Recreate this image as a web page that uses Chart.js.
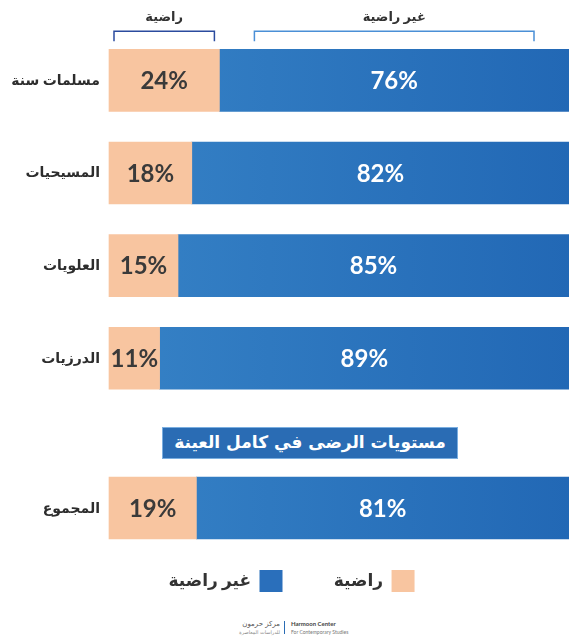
<!DOCTYPE html>
<html lang="ar">
<head>
<meta charset="utf-8">
<script src="https://cdn.jsdelivr.net/npm/chart.js@4.4.1/dist/chart.umd.min.js"></script>
<style>
  html, body { margin: 0; padding: 0; background: #fff; }
  body { width: 569px; height: 639px; position: relative; overflow: hidden; font-family: Lato, "DejaVu Sans", sans-serif; }
  #topWrap { position: absolute; left: 0; top: 0; }
  #totalWrap { position: absolute; left: 0; top: 440px; }
  #sectionTitle {
    position: absolute; left: 162px; top: 427px; width: 296px; height: 32px;
    background: #2a6cb4; border: 1px solid #7aaee0; box-sizing: border-box;
    color: #fff; font: bold 17px "DejaVu Sans", sans-serif; text-align: center;
    line-height: 29px; direction: rtl;
  }
  #footer { position: absolute; top: 620px; left: 0; width: 569px; height: 16px; }
  #footer .ar { position: absolute; right: 289px; top: 0; direction: rtl; text-align: right; font: 7px "DejaVu Sans"; color: #555; line-height: 8px; }
  #footer .ar span { font-size: 5px; color: #888; }
  #footer .sep { position: absolute; left: 284px; top: 1px; width: 1px; height: 13px; background: #2a6cb4; }
  #footer .en { position: absolute; left: 291px; top: 0; font: bold 6px Lato, sans-serif; color: #444; line-height: 8px; }
  #footer .en span { font-weight: normal; font-size: 5px; color: #777; }
</style>
</head>
<body>
<div id="topWrap"><canvas id="groupsChart" width="569" height="422"></canvas></div>
<div id="sectionTitle">مستويات الرضى في كامل العينة</div>
<div id="totalWrap"><canvas id="totalChart" width="569" height="162"></canvas></div>
<div id="footer">
  <div class="ar">مركز حرمون<br><span>للدراسات المعاصرة</span></div>
  <div class="sep"></div>
  <div class="en">Harmoon Center<br><span>For Contemporary Studies</span></div>
</div>
<script>
// --- dados ---
const seriesNames = ["راضية", "غير راضية"];
const groups = ["مسلمات سنة", "المسيحيات", "العلويات", "الدرزيات"];
const groupsSatisfied = [24, 18, 15, 11];
const groupsUnsatisfied = [76, 82, 85, 89];
const totalLabel = ["المجموع"];
const totalSatisfied = [19];
const totalUnsatisfied = [81];

const ORANGE = "#f8c5a0";
const FONT = 'Lato, "DejaVu Sans", sans-serif';

function blueFill(context) {
    const chart = context.chart;
    const area = chart.chartArea;
    if (!area) return "#2c72bc";
    const g = chart.ctx.createLinearGradient(area.left, 0, area.right, 0);
    g.addColorStop(0, "#3682c6");
    g.addColorStop(1, "#2268b5");
    return g;
}

// percentages inside the bars
const valueLabels = {
    id: "valueLabels",
    afterDatasetsDraw(chart) {
        const ctx = chart.ctx;
        ctx.save();
        ctx.font = "bold 24px " + FONT;
        ctx.textAlign = "center";
        ctx.textBaseline = "middle";
        chart.data.datasets.forEach((ds, i) => {
            chart.getDatasetMeta(i).data.forEach((bar, j) => {
                ctx.fillStyle = i === 0 ? "#3a3a3a" : "#ffffff";
                ctx.fillText(ds.data[j] + "%", (bar.x + bar.base) / 2, bar.y + 1);
            });
        });
        ctx.restore();
    }
};

// brackets over the first bar
const brackets = {
    id: "brackets",
    afterDraw(chart) {
        const ctx = chart.ctx;
        const a = chart.getDatasetMeta(0).data[0];
        const b = chart.getDatasetMeta(1).data[0];
        const barTop = a.y - a.height / 2;
        const spans = [
            { l: a.base + 5, r: a.x - 5, color: "#2b4b9e" },
            { l: b.base + 35, r: b.x - 35, color: "#4a8fd6" }
        ];
        ctx.save();
        ctx.lineWidth = 1.5;
        ctx.font = "bold 13px " + FONT;
        ctx.textAlign = "center";
        ctx.textBaseline = "middle";
        spans.forEach((s, i) => {
            ctx.strokeStyle = s.color;
            ctx.beginPath();
            ctx.moveTo(s.l, barTop - 8);
            ctx.lineTo(s.l, barTop - 18);
            ctx.lineTo(s.r, barTop - 18);
            ctx.lineTo(s.r, barTop - 8);
            ctx.stroke();
            ctx.fillStyle = "#333";
            ctx.fillText(seriesNames[i], (s.l + s.r) / 2, barTop - 33);
        });
        ctx.restore();
    }
};

function makeOptions(showLegend, padding, axisWidth) {
    return {
        indexAxis: "y",
        responsive: false,
        animation: false,
        layout: { padding: padding },
        plugins: {
            legend: {
                display: showLegend,
                position: "bottom",
                rtl: true,
                textDirection: "rtl",
                labels: {
                    boxWidth: 23,
                    boxHeight: 22,
                    padding: 30,
                    color: "#333",
                    font: { size: 17, weight: "bold", family: FONT },
                    generateLabels(chart) {
                        const items = Chart.defaults.plugins.legend.labels.generateLabels(chart);
                        // a bit more room between the two entries
                        items[0].text += "\u2003\u2002";
                        items[1].fillStyle = "#2a6fbb";
                        return items;
                    }
                }
            },
            tooltip: { enabled: false }
        },
        scales: {
            x: { stacked: true, min: 0, max: 100, display: false },
            y: {
                stacked: true,
                grid: { display: false, drawTicks: false },
                border: { display: false },
                ticks: { color: "#2d2d2d", padding: 9, font: { size: 14, weight: "bold", family: FONT } },
                afterFit(scale) { scale.width = axisWidth; }
            }
        }
    };
}

function makeDatasets(sat, unsat) {
    return [
        { label: seriesNames[0], data: sat, backgroundColor: ORANGE, borderWidth: 0, barThickness: 62, clip: false },
        { label: seriesNames[1], data: unsat, backgroundColor: blueFill, borderWidth: 0, barThickness: 62, clip: false }
    ];
}

new Chart(document.getElementById("groupsChart"), {
    type: "bar",
    data: { labels: groups, datasets: makeDatasets(groupsSatisfied, groupsUnsatisfied) },
    options: makeOptions(false, { top: 34, bottom: 7 }, 109),
    plugins: [valueLabels, brackets]
});

new Chart(document.getElementById("totalChart"), {
    type: "bar",
    data: { labels: totalLabel, datasets: makeDatasets(totalSatisfied, totalUnsatisfied) },
    options: makeOptions(true, { top: 36, bottom: 0, left: 14 }, 95),
    plugins: [valueLabels]
});
</script>
</body>
</html>
